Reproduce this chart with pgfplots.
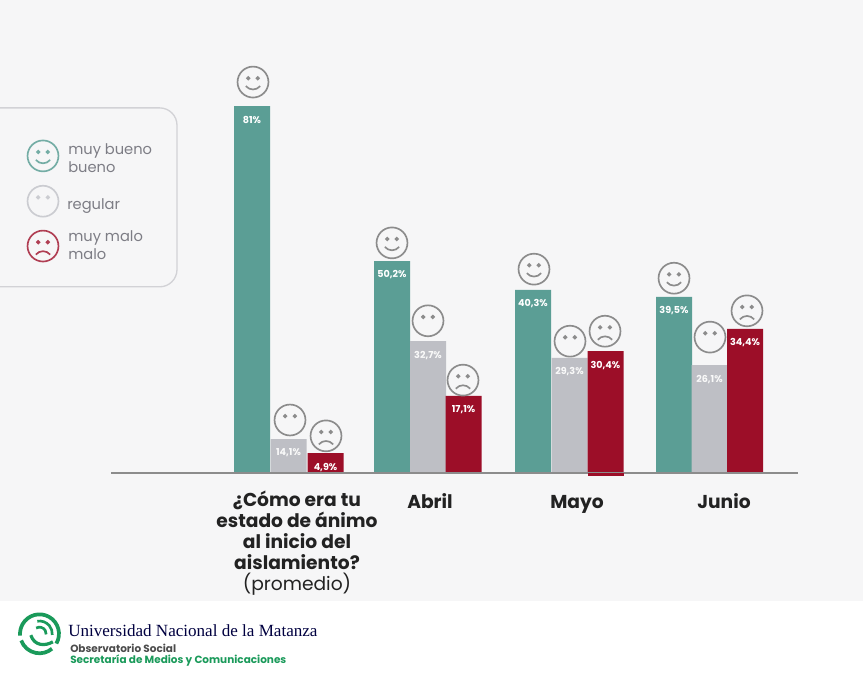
\documentclass[border=0pt]{standalone}
\usepackage{pgfplots}
\pgfplotsset{compat=1.18}
\usepackage{pgfplotstable}
\usepackage{fontspec}
\setmainfont{Poppins}
\newfontfamily\serifuni{Liberation Serif}

\definecolor{fondo}{HTML}{F6F6F7}
\definecolor{verde}{HTML}{5B9E95}
\definecolor{gris}{HTML}{BEBFC5}
\definecolor{rojo}{HTML}{9C0E28}
\definecolor{caragris}{HTML}{8C8C8C}
\definecolor{texto}{HTML}{222222}
\definecolor{leyenda}{HTML}{7D7D85}
\definecolor{unlam}{HTML}{1A9A5A}

% caras: circulo, dos ojos y la boca
\newcommand{\cara}[2]{%
  \pgfdeclareplotmark{#1}{%
    \pgfsetlinewidth{1.25pt}\pgfsetfillcolor{fondo}%
    \pgfpathcircle{\pgfpointorigin}{11.6pt}\pgfusepathqfillstroke
    \pgfsetlinewidth{1.9pt}%
    \pgfpathcircle{\pgfpoint{-3.6pt}{2.9pt}}{0.45pt}\pgfusepathqstroke
    \pgfpathcircle{\pgfpoint{3.6pt}{2.9pt}}{0.45pt}\pgfusepathqstroke
    \pgfsetlinewidth{1.25pt}%
    #2}}
\cara{feliz}{\pgfpathmoveto{\pgfpoint{-5.4pt}{-3pt}}%
  \pgfpathcurveto{\pgfpoint{-2.5pt}{-6.4pt}}{\pgfpoint{2.5pt}{-6.4pt}}{\pgfpoint{5.4pt}{-3pt}}\pgfusepathqstroke}
\cara{neutra}{}
\cara{triste}{\pgfpathmoveto{\pgfpoint{-5.4pt}{-6.4pt}}%
  \pgfpathcurveto{\pgfpoint{-2.5pt}{-3pt}}{\pgfpoint{2.5pt}{-3pt}}{\pgfpoint{5.4pt}{-6.4pt}}\pgfusepathqstroke}

% altura = lo que mide la barra en la imagen, etiqueta = lo que dice el texto
\pgfplotstableread{
x y lab
252 81.0 81
392 46.8 50,2
533 40.4 40,3
674 38.9 39,5
}\verdes
\pgfplotstableread{
x y lab
288.5 7.5 14,1
428 29.1 32,7
569.5 25.4 29,3
709.5 23.8 26,1
}\grises
\pgfplotstableread{
x y lab
325.5 4.4 4,9
463.5 17.0 17,1
605.5 26.9 30,4
745 31.8 34,4
}\rojos

\begin{document}
\begin{tikzpicture}
\begin{axis}[
    scale only axis,
    width=647.25pt, height=505.5pt,
    xmin=0, xmax=863,
    ymin=-44.37, ymax=104.42,
    hide axis,
    axis background/.style={fill=white},
    point meta=explicit symbolic,
    bar width=36,
    nodes near coords={\pgfplotspointmeta\%},
    nodes near coords style={anchor=center, yshift=-10.5pt, inner sep=0pt, font=\fontsize{7.2}{9}\selectfont\bfseries},
    ]
\fill[fondo] (axis cs:0,-28.26) rectangle (axis cs:863,104.42);
\draw[gris!70, line width=1pt, rounded corners=13pt, fill=fondo] (axis cs:-30,80.6) rectangle (axis cs:177,41.1);

\addplot[ybar, fill=verde, draw=none, nodes near coords style={text=white}] table[x=x, y=y, meta=lab] {\verdes};
\addplot[ybar, fill=gris, draw=none, nodes near coords style={text=white!90!gris}] table[x=x, y=y, meta=lab] {\grises};
\addplot[ybar, fill=rojo, draw=none, nodes near coords style={text=white}] table[x=x, y=y, meta=lab] {\rojos};

% linea de base
\addplot[caragris, line width=1.5pt, no marks, nodes near coords={}] coordinates {(111,0) (798,0)};
\addplot[ybar, fill=rojo, draw=none, nodes near coords={}] coordinates {(605.5,-0.6)};

% caras sobre las barras
\addplot[only marks, nodes near coords={}, mark=feliz, mark options={draw=caragris}] coordinates {(253,86.3) (392,50.8) (534,45.0) (674,43.0)};
\addplot[only marks, nodes near coords={}, mark=neutra, mark options={draw=caragris}] coordinates {(290,11.7) (428,33.6) (570,29.1) (710,30.0)};
\addplot[only marks, nodes near coords={}, mark=triste, mark options={draw=caragris}] coordinates {(326,8.2) (463,20.5) (605,31.3) (747,35.8)};

% caras de la leyenda
\addplot[only marks, nodes near coords={}, mark=feliz, mark options={draw=verde!85}] coordinates {(43,70.0)};
\addplot[only marks, nodes near coords={}, mark=neutra, mark options={draw=gris!80}] coordinates {(43,60.0)};
\addplot[only marks, nodes near coords={}, mark=triste, mark options={draw=rojo!80}] coordinates {(43,50.1)};

\node[anchor=west, inner sep=0pt, text=leyenda, font=\fontsize{11}{13.5}\selectfont, align=left] at (axis cs:68,69.5) {muy bueno\\bueno};
\node[anchor=west, inner sep=0pt, text=leyenda, font=\fontsize{11}{13.5}\selectfont] at (axis cs:67,59.0) {regular};
\node[anchor=west, inner sep=0pt, text=leyenda, font=\fontsize{11}{13.5}\selectfont, align=left] at (axis cs:68,50.3) {muy malo\\malo};

% categorias
\node[anchor=north, inner sep=0pt, text=texto, align=center, font=\fontsize{14}{15.8}\selectfont\bfseries] at (axis cs:297,-3.8)
  {¿Cómo era tu\\estado de ánimo\\al inicio del\\aislamiento?\\{\mdseries (promedio)}};
\node[anchor=base, inner sep=0pt, text=texto, font=\fontsize{14}{15.8}\selectfont\bfseries] at (axis cs:430,-7.9) {Abril};
\node[anchor=base, inner sep=0pt, text=texto, font=\fontsize{14}{15.8}\selectfont\bfseries] at (axis cs:577,-7.9) {Mayo};
\node[anchor=base, inner sep=0pt, text=texto, font=\fontsize{14}{15.8}\selectfont\bfseries] at (axis cs:724,-7.9) {Junio};

% pie con el logo
\begin{scope}[shift={(axis cs:39.5,-35.5)}, unlam, line width=2.8pt]
  \draw (-30:14.6pt) arc (-30:185:14.6pt);
  \draw (200:14.6pt) arc (200:310:14.6pt);
  \draw[line width=2pt] (100:9.6pt) arc (100:-5:9.6pt);
  \draw[line width=2pt] (120:5pt) arc (120:-5:5pt);
  \draw[line width=2.4pt] (-6.5pt,-1pt) .. controls (-4pt,-9pt) and (4pt,-9.5pt) .. (10pt,-6pt);
\end{scope}
\node[anchor=west, inner sep=0pt, text=black!75!blue, font=\serifuni\fontsize{12.8}{15}\selectfont] at (axis cs:68,-34.7) {Universidad Nacional de la Matanza};
\node[anchor=west, inner sep=0pt, text=black!70, font=\fontsize{7.85}{9}\selectfont\bfseries] at (axis cs:70,-38.7) {Observatorio Social};
\node[anchor=west, inner sep=0pt, text=unlam, font=\fontsize{7.85}{9}\selectfont\bfseries] at (axis cs:70,-41.4) {Secretaría de Medios y Comunicaciones};
\end{axis}
\end{tikzpicture}
\end{document}
